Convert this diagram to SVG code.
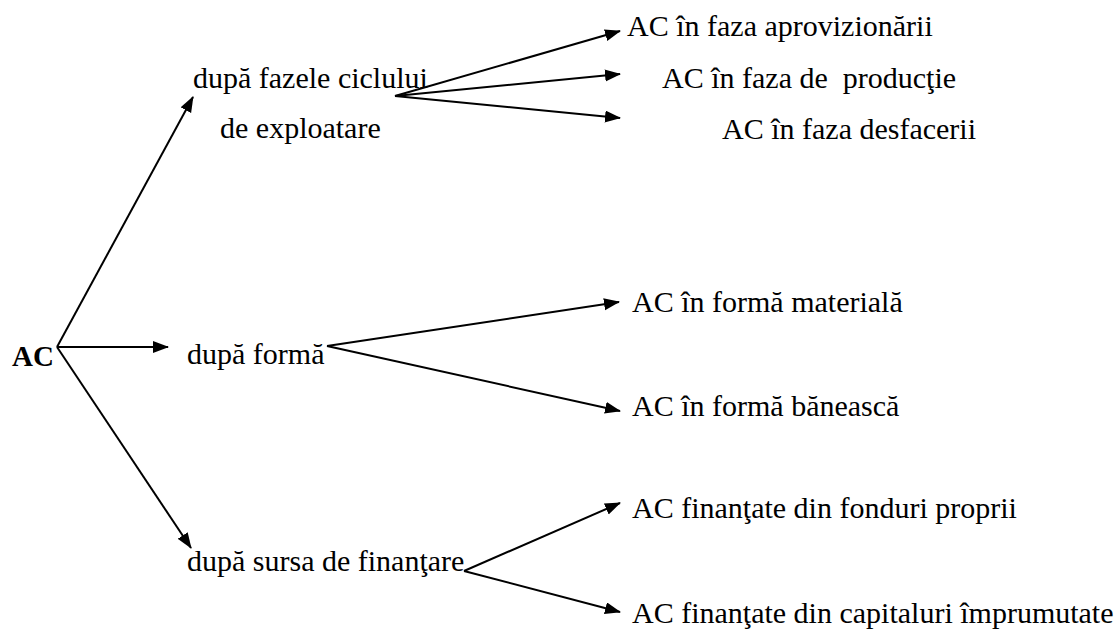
<svg xmlns="http://www.w3.org/2000/svg" width="1116" height="629" viewBox="0 0 1116 629">
<style>
text{font-family:"Liberation Serif","Times New Roman",serif;font-size:30px;fill:#000}
.b{font-weight:bold;font-size:29px}
.ln{stroke:#000;stroke-width:2;fill:none;marker-end:url(#ah)}
</style>
<defs>
<marker id="ah" markerUnits="userSpaceOnUse" markerWidth="17" markerHeight="13" refX="15" refY="6" orient="auto">
<path d="M0,0 L16,6 L0,12 z" fill="#000"/>
</marker>
</defs>
<rect width="1116" height="629" fill="#fff"/>
<g id="connectors">
<line class="ln" x1="57" y1="347" x2="193" y2="97"/>
<line class="ln" x1="57" y1="347" x2="168" y2="347"/>
<line class="ln" x1="57" y1="347" x2="191" y2="548"/>
<line class="ln" x1="395" y1="96" x2="620" y2="31"/>
<line class="ln" x1="395" y1="96" x2="620" y2="74"/>
<line class="ln" x1="395" y1="96" x2="620" y2="118"/>
<line class="ln" x1="327" y1="346" x2="619" y2="302"/>
<line class="ln" x1="327" y1="346" x2="620" y2="411"/>
<line class="ln" x1="464" y1="571" x2="620" y2="503"/>
<line class="ln" x1="464" y1="571" x2="620" y2="612"/>
</g>
<g id="root"><text class="b" x="12" y="366">AC</text></g>
<g id="n-faze"><text x="193" y="88">după fazele ciclului</text><text x="220" y="138">de exploatare</text></g>
<g id="n-forma"><text x="187" y="364">după formă</text></g>
<g id="n-sursa"><text x="187" y="571">după sursa de finanţare</text></g>
<g id="n-aprov"><text x="627" y="36">AC în faza aprovizionării</text></g>
<g id="n-prod"><text x="662" y="88" xml:space="preserve">AC în faza de  producţie</text></g>
<g id="n-desf"><text x="722" y="139">AC în faza desfacerii</text></g>
<g id="n-mat"><text x="632" y="312">AC în formă materială</text></g>
<g id="n-ban"><text x="632" y="416">AC în formă bănească</text></g>
<g id="n-prop"><text x="632" y="518">AC finanţate din fonduri proprii</text></g>
<g id="n-imp"><text x="632" y="623">AC finanţate din capitaluri împrumutate</text></g>
</svg>
